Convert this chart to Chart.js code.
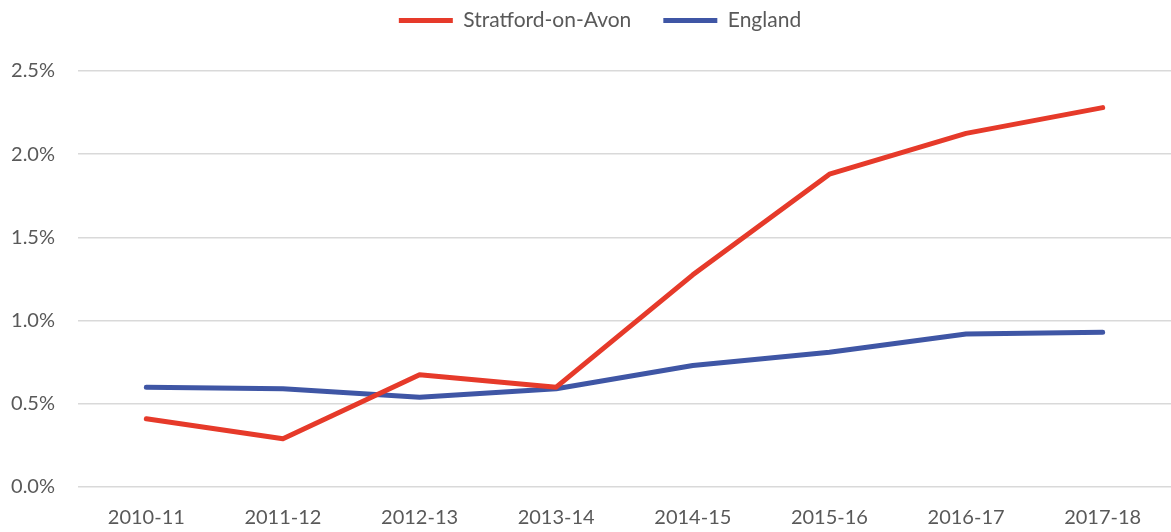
<!DOCTYPE html>
<html>
<head>
<meta charset="utf-8">
<script src="https://cdn.jsdelivr.net/npm/chart.js@4"></script>
<style>
html,body{margin:0;padding:0;background:#fff;}
#wrap{width:1171px;height:532px;position:relative;}
</style>
</head>
<body>
<div id="wrap"><canvas id="c" width="1171" height="532"></canvas></div>
<script>
const categories = ['2010-11','2011-12','2012-13','2013-14','2014-15','2015-16','2016-17','2017-18'];
const stratford = [0.41, 0.29, 0.675, 0.60, 1.275, 1.88, 2.125, 2.28];
const england = [0.60, 0.59, 0.54, 0.59, 0.73, 0.81, 0.92, 0.93];
const yTicks = [0, 0.5, 1.0, 1.5, 2.0, 2.5];

const FONT = 'Lato';
const TXT = '#595959';

const legendSpace = {
  id:'legendSpace',
  beforeInit(chart){
    const lg = chart.legend;
    if(!lg) return;
    const orig = lg.fit;
    lg.fit = function(){ orig.call(this); this.height = 93; };
  },
  afterLayout(chart){
    const lg = chart.legend;
    if(!lg) return;
    lg.left += 10; lg.right += 10;
  }
};

new Chart(document.getElementById('c'), {
  type: 'line',
  data: {
    labels: categories,
    datasets: [
      {label:'Stratford-on-Avon', data: stratford, borderColor:'#E63A2A', backgroundColor:'#E63A2A', borderWidth:5, pointRadius:0, tension:0, borderCapStyle:'round', borderJoinStyle:'round'},
      {label:'England', data: england, borderColor:'#3F56A5', backgroundColor:'#3F56A5', borderWidth:5, pointRadius:0, tension:0, borderCapStyle:'round', borderJoinStyle:'round'}
    ]
  },
  options: {
    responsive:false,
    animation:false,
    devicePixelRatio:1,
    layout:{padding:{top:-22,left:0,right:-9,bottom:0}},
    plugins:{
      legend:{
        position:'top',
        labels:{usePointStyle:true,pointStyle:'line',pointStyleWidth:54,boxHeight:5,color:TXT,font:{family:FONT,size:21},padding:32}
      },
      tooltip:{enabled:false}
    },
    scales:{
      x:{
        offset:true,
        afterFit:s=>{s.height=45;},
        grid:{display:false,drawTicks:false},
        border:{display:false},
        ticks:{color:TXT,font:{family:FONT,size:20},padding:19,maxRotation:0}
      },
      y:{
        min:0,max:2.5,
        afterFit:s=>{s.width=78;},
        afterBuildTicks:s=>{s.ticks = yTicks.map(v=>({value:v}));},
        grid:{color:'#D9D9D9',lineWidth:1.5,drawTicks:false},
        border:{display:false},
        ticks:{color:TXT,font:{family:FONT,size:20},padding:23,callback:v=>v.toFixed(1)+'%'}
      }
    }
  },
  plugins:[legendSpace]
});
</script>
</body>
</html>
